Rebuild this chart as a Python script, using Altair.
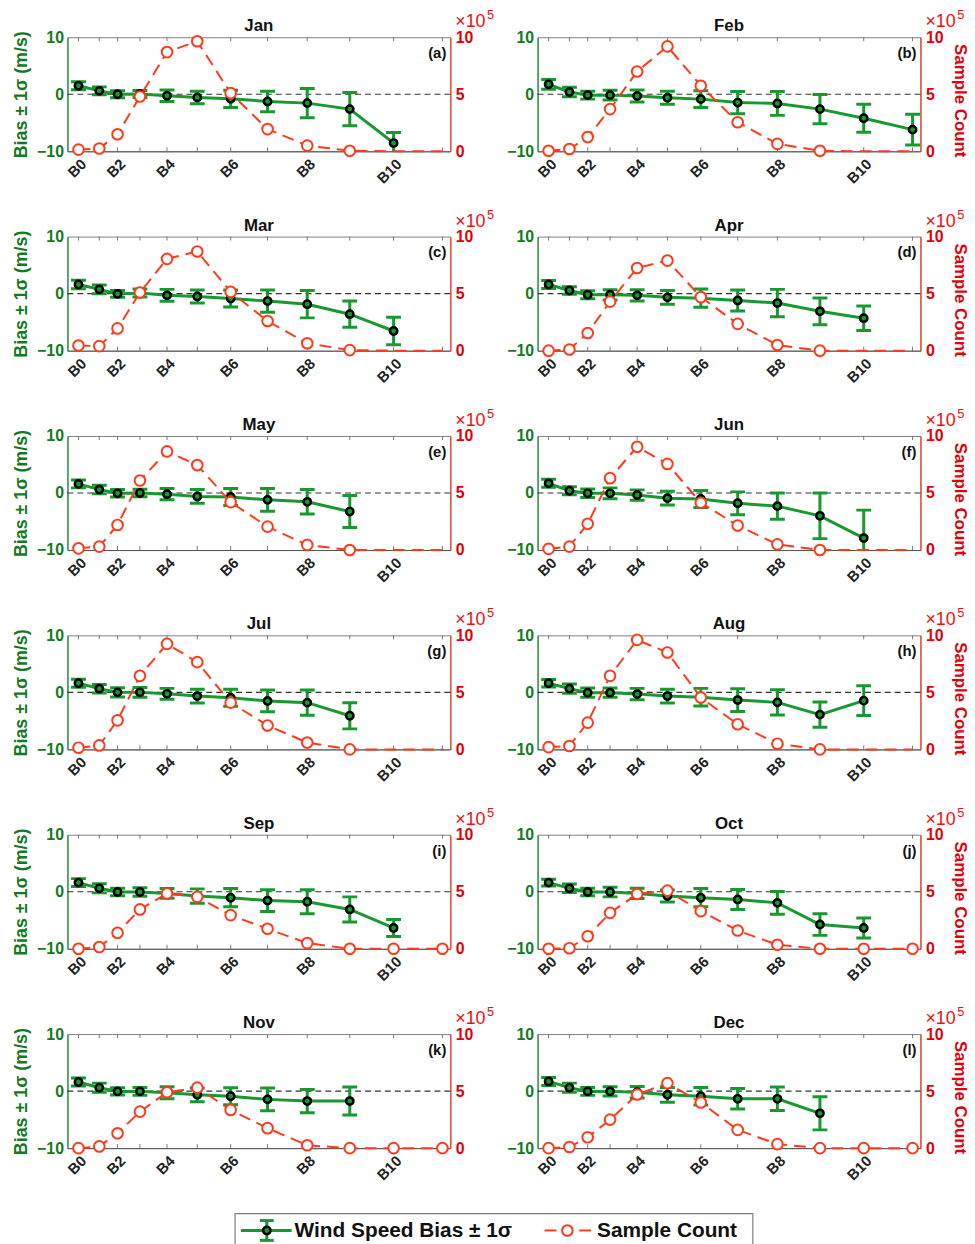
import altair as alt
import pandas as pd

# ---------------- data ----------------
months = ["Jan", "Feb", "Mar", "Apr", "May", "Jun",
          "Jul", "Aug", "Sep", "Oct", "Nov", "Dec"]
panel_tags = ["(a)", "(b)", "(c)", "(d)", "(e)", "(f)",
              "(g)", "(h)", "(i)", "(j)", "(k)", "(l)"]
bin_names = ["B0", "B1", "B2", "B3", "B4", "B5",
             "B6", "B7", "B8", "B9", "B10", "B11"]
# bin centres on the (non-uniform) horizontal axis
bin_center = [0.0, 0.66, 1.24, 1.95, 2.81, 3.77, 4.83, 6.0, 7.26, 8.61, 10.0, 11.55]

# wind speed bias (m/s) per bin
bias_jan = [1.5, 0.6, 0.0, 0.05, -0.25, -0.55, -0.8, -1.25, -1.55, -2.6, -8.55]
bias_feb = [1.75, 0.4, -0.15, -0.15, -0.3, -0.6, -0.85, -1.45, -1.6, -2.6, -4.2, -6.2]
bias_mar = [1.6, 0.75, -0.05, 0.1, -0.3, -0.5, -0.85, -1.3, -1.85, -3.6, -6.55]
bias_apr = [1.6, 0.55, -0.2, -0.2, -0.3, -0.65, -0.8, -1.2, -1.65, -3.1, -4.3]
bias_may = [1.6, 0.6, -0.05, 0.0, -0.2, -0.6, -0.7, -1.2, -1.55, -3.25]
bias_jun = [1.7, 0.4, -0.05, -0.05, -0.35, -0.9, -1.05, -1.8, -2.3, -4.0, -7.9]
bias_jul = [1.6, 0.65, 0.0, 0.0, -0.25, -0.65, -0.95, -1.5, -1.8, -4.1]
bias_aug = [1.6, 0.65, -0.05, -0.05, -0.3, -0.65, -0.85, -1.35, -1.75, -3.9, -1.45]
bias_sep = [1.6, 0.6, -0.05, -0.05, -0.3, -0.75, -1.05, -1.55, -1.75, -3.1, -6.35]
bias_oct = [1.6, 0.6, -0.05, -0.05, -0.3, -0.75, -1.05, -1.35, -1.95, -5.75, -6.35]
bias_nov = [1.6, 0.6, -0.05, -0.05, -0.3, -0.65, -0.9, -1.45, -1.75, -1.75]
bias_dec = [1.7, 0.6, -0.05, -0.05, -0.2, -0.65, -0.9, -1.35, -1.35, -3.9]

# one standard deviation (m/s) per bin
sigma_jan = [0.7, 0.7, 0.6, 0.6, 1.0, 1.1, 1.5, 1.8, 2.55, 2.9, 1.85]
sigma_feb = [0.85, 0.85, 0.7, 0.85, 1.05, 1.15, 1.45, 1.95, 2.1, 2.55, 2.45, 2.7]
sigma_mar = [0.75, 0.75, 0.6, 0.7, 1.05, 1.15, 1.5, 1.95, 2.4, 2.3, 2.4]
sigma_apr = [0.7, 0.65, 0.7, 0.9, 1.0, 1.2, 1.6, 1.85, 2.4, 2.35, 2.15]
sigma_may = [0.7, 0.75, 0.65, 0.65, 1.0, 1.2, 1.5, 2.0, 2.15, 2.8]
sigma_jun = [0.7, 0.7, 0.75, 0.95, 0.9, 1.2, 1.5, 2.0, 2.3, 4.0, 4.9]
sigma_jul = [0.7, 0.75, 0.8, 0.85, 0.95, 1.2, 1.5, 1.9, 2.2, 2.3]
sigma_aug = [0.65, 0.8, 0.8, 0.8, 1.0, 1.2, 1.55, 2.0, 2.2, 2.2, 2.6]
sigma_sep = [0.7, 0.8, 0.65, 0.75, 0.85, 1.25, 1.6, 1.9, 2.1, 2.2, 1.5]
sigma_oct = [0.6, 0.75, 0.65, 0.85, 0.9, 1.05, 1.6, 1.75, 2.0, 1.9, 1.75]
sigma_nov = [0.7, 0.8, 0.65, 0.7, 1.05, 1.2, 1.5, 2.0, 2.05, 2.45]
sigma_dec = [0.7, 0.8, 0.7, 0.8, 1.0, 1.3, 1.55, 1.8, 2.05, 2.9]

# sample count (x 10^5) per bin
count_jan = [0.15, 0.25, 1.5, 4.8, 8.7, 9.65, 5.1, 1.95, 0.5, 0.05, 0.0, 0.0]
count_feb = [0.05, 0.2, 1.25, 3.7, 7.0, 9.2, 5.75, 2.55, 0.65, 0.05, 0.0, 0.0]
count_mar = [0.45, 0.4, 1.95, 5.1, 8.05, 8.7, 5.15, 2.6, 0.65, 0.05, 0.0, 0.0]
count_apr = [0.0, 0.1, 1.55, 4.3, 7.25, 7.9, 4.7, 2.35, 0.5, 0.0, 0.0, 0.0]
count_may = [0.15, 0.3, 2.2, 6.1, 8.65, 7.45, 4.2, 2.05, 0.45, 0.0, 0.0, 0.0]
count_jun = [0.1, 0.3, 2.3, 6.3, 9.05, 7.55, 4.15, 2.15, 0.5, 0.0, 0.0, 0.0]
count_jul = [0.15, 0.35, 2.55, 6.45, 9.25, 7.65, 4.1, 2.1, 0.6, 0.0, 0.0, 0.0]
count_aug = [0.2, 0.3, 2.35, 6.45, 9.6, 8.5, 4.55, 2.2, 0.5, 0.0, 0.0, 0.0]
count_sep = [0.0, 0.15, 1.4, 3.45, 4.85, 4.55, 2.95, 1.75, 0.5, 0.0, 0.0, 0.0]
count_oct = [0.0, 0.05, 1.1, 3.15, 4.8, 5.1, 3.3, 1.6, 0.35, 0.0, 0.0, 0.0]
count_nov = [0.0, 0.15, 1.3, 3.2, 4.9, 5.3, 3.35, 1.75, 0.25, 0.0, 0.0, 0.0]
count_dec = [0.0, 0.1, 0.95, 2.5, 4.7, 5.7, 4.0, 1.6, 0.35, 0.0, 0.0, 0.0]

# number of bins that carry a visible count marker
count_marker_bins = [10, 10, 10, 10, 10, 10, 10, 10, 12, 12, 12, 12]

legend_labels = ["Wind Speed Bias \u00b1 1\u03c3", "Sample Count"]

bias_all = [bias_jan, bias_feb, bias_mar, bias_apr, bias_may, bias_jun,
            bias_jul, bias_aug, bias_sep, bias_oct, bias_nov, bias_dec]
sigma_all = [sigma_jan, sigma_feb, sigma_mar, sigma_apr, sigma_may, sigma_jun,
             sigma_jul, sigma_aug, sigma_sep, sigma_oct, sigma_nov, sigma_dec]
count_all = [count_jan, count_feb, count_mar, count_apr, count_may, count_jun,
             count_jul, count_aug, count_sep, count_oct, count_nov, count_dec]

# ---------------- styling ----------------
FONT = "Liberation Sans"
GREEN = "#17992f"
GREEN_TXT = "#127a22"
RED = "#ff3a1c"
RED_TXT = "#e0000b"
W, H = 386, 115

x_ticks = [bin_center[i] for i in range(0, 12, 2)]
label_expr = "[" + ",".join("'%s'" % n for n in bin_names) + "][indexof([" + \
    ",".join(repr(v) for v in bin_center) + "], datum.value)]"

x_axis = alt.Axis(values=x_ticks, labelExpr=label_expr, labelAngle=-45,
                  title=None, grid=False, ticks=False, domainColor="#555555",
                  labelColor="#222222", labelFontSize=15, labelPadding=5,
                  labelFont=FONT, labelFontWeight="bold")
x_scale = alt.Scale(domain=[-0.35, 11.8], nice=False, zero=False)


def panel(k):
    left_col = (k % 2 == 0)
    b = bias_all[k]
    s = sigma_all[k]
    c = count_all[k]
    bdf = pd.DataFrame({
        "x": bin_center[:len(b)],
        "bias": b,
        "lo": [bi - si for bi, si in zip(b, s)],
        "hi": [bi + si for bi, si in zip(b, s)],
    })
    cdf = pd.DataFrame({"x": bin_center, "count": c})
    cdf_m = cdf.iloc[:count_marker_bins[k]]
    tick_df = pd.DataFrame({"x": bin_center})

    X = alt.X("x:Q", scale=x_scale, axis=x_axis)
    y_left_axis = alt.Axis(values=[-10, 0, 10], grid=False, ticks=False,
                           domainColor=GREEN, domainWidth=1.2,
                           labelColor=GREEN_TXT, labelFontSize=16, labelPadding=4,
                           title="Bias \u00b1 1\u03c3 (m/s)" if left_col else None,
                           titleColor=GREEN_TXT, titleFontSize=18, titlePadding=6,
                           titleFont=FONT, labelFont=FONT)
    y_scale = alt.Scale(domain=[-10, 10], nice=False)
    YB = lambda f: alt.Y(f + ":Q", scale=y_scale, axis=y_left_axis)

    zero = alt.Chart(bdf.iloc[:1]).mark_rule(color="#333333", strokeWidth=1.1,
                                             strokeDash=[6, 4]).encode(
        y=alt.datum(0, scale=y_scale, axis=y_left_axis),
        x=alt.value(0), x2=alt.value(W))
    top_ticks = alt.Chart(tick_df).mark_rule(color="#777777", strokeWidth=1).encode(
        x=X, y=alt.value(0), y2=alt.value(4))
    bot_ticks = alt.Chart(tick_df).mark_rule(color="#777777", strokeWidth=1).encode(
        x=X, y=alt.value(H), y2=alt.value(H - 4))
    err = alt.Chart(bdf).mark_rule(color=GREEN, strokeWidth=3, clip=True).encode(
        x=X, y=YB("lo"), y2="hi:Q")
    cap_lo = alt.Chart(bdf).mark_tick(color=GREEN, orient="horizontal", size=15,
                                      thickness=3, opacity=1, clip=True).encode(
        x=X, y=YB("lo"))
    cap_hi = alt.Chart(bdf).mark_tick(color=GREEN, orient="horizontal", size=15,
                                      thickness=3, opacity=1, clip=True).encode(
        x=X, y=YB("hi"))
    line = alt.Chart(bdf).mark_line(color=GREEN, strokeWidth=3).encode(
        x=X, y=YB("bias"))
    pts = alt.Chart(bdf).mark_point(shape="circle", filled=False, fill=GREEN,
                                    stroke="black", strokeWidth=2.5, size=55,
                                    opacity=1).encode(x=X, y=YB("bias"))
    bias_layer = alt.layer(zero, top_ticks, bot_ticks, err, cap_lo, cap_hi, line, pts)

    y_right_axis = alt.Axis(orient="right", values=[0, 5, 10], grid=False, ticks=False,
                            domainColor=RED, domainWidth=1.2, labelColor=RED_TXT,
                            labelFontSize=16, labelPadding=5,
                            title="Sample Count" if not left_col else None,
                            titleColor=RED_TXT, titleFontSize=17, titlePadding=8,
                            titleY=H / 2 + 6, titleFont=FONT, labelFont=FONT)
    yc_scale = alt.Scale(domain=[0, 10], nice=False)
    YC = alt.Y("count:Q", scale=yc_scale, axis=y_right_axis)
    cline = alt.Chart(cdf).mark_line(color=RED, strokeWidth=2,
                                     strokeDash=[12, 7]).encode(x=X, y=YC)
    cpts = alt.Chart(cdf_m).mark_point(shape="circle", filled=False, fill="white",
                                       stroke=RED, strokeWidth=2, size=115,
                                       opacity=1).encode(x=X, y=YC)
    count_layer = alt.layer(cline, cpts)

    one = pd.DataFrame({"k": [0]})
    title = alt.Chart(one).mark_text(text=months[k], align="center", baseline="middle",
                                     fontSize=17, fontWeight="bold", font=FONT,
                                     color="#111111").encode(
        x=alt.value(W / 2), y=alt.value(-11))
    tag = alt.Chart(one).mark_text(text=panel_tags[k], align="right", baseline="middle",
                                   fontSize=15, fontWeight="bold", font=FONT,
                                   color="#111111").encode(
        x=alt.value(W - 4), y=alt.value(16))
    mult = alt.Chart(one).mark_text(text="\u00d710", align="left", baseline="middle",
                                    fontSize=18, font=FONT, color="#f01010").encode(
        x=alt.value(W + 5), y=alt.value(-15))
    expo = alt.Chart(one).mark_text(text="5", align="left", baseline="middle",
                                    fontSize=13, font=FONT, color="#f01010").encode(
        x=alt.value(W + 37), y=alt.value(-22))

    return alt.layer(bias_layer, count_layer, title, tag, mult, expo).resolve_scale(
        y="independent").properties(width=W, height=H)


panels = [panel(k) for k in range(12)]

# legend box (13th cell, drawn across the two columns; lifted to sit closer)
one = pd.DataFrame({"k": [0]})
LX, LY, LW, LH = 169, -20, 522, 34
MID = LY + LH / 2
lg_box = alt.Chart(one).mark_rect(fill="white", stroke="#7f7f7f", strokeWidth=1.2).encode(
    x=alt.value(LX), x2=alt.value(LX + LW), y=alt.value(LY), y2=alt.value(LY + LH))
lg_line = alt.Chart(one).mark_rule(color=GREEN, strokeWidth=3).encode(
    x=alt.value(LX + 6), x2=alt.value(LX + 57), y=alt.value(MID))
lg_err = alt.Chart(one).mark_rule(color=GREEN, strokeWidth=3).encode(
    x=alt.value(LX + 32), y=alt.value(LY + 7), y2=alt.value(LY + LH - 7))
lg_cap1 = alt.Chart(one).mark_rule(color=GREEN, strokeWidth=3).encode(
    x=alt.value(LX + 25), x2=alt.value(LX + 39), y=alt.value(LY + 7))
lg_cap2 = alt.Chart(one).mark_rule(color=GREEN, strokeWidth=3).encode(
    x=alt.value(LX + 25), x2=alt.value(LX + 39), y=alt.value(LY + LH - 7))
lg_pt = alt.Chart(one).mark_point(shape="circle", filled=False, fill=GREEN, stroke="black",
                                  strokeWidth=2.5, size=55, opacity=1).encode(
    x=alt.value(LX + 32), y=alt.value(MID))
lg_t1 = alt.Chart(one).mark_text(text=legend_labels[0], align="left", baseline="middle",
                                 fontSize=21, fontWeight="bold", font=FONT,
                                 color="#111111").encode(x=alt.value(LX + 60), y=alt.value(MID + 1))
lg_d1 = alt.Chart(one).mark_rule(color=RED, strokeWidth=2).encode(
    x=alt.value(LX + 312), x2=alt.value(LX + 324), y=alt.value(MID))
lg_d2 = alt.Chart(one).mark_rule(color=RED, strokeWidth=2).encode(
    x=alt.value(LX + 347), x2=alt.value(LX + 359), y=alt.value(MID))
lg_c = alt.Chart(one).mark_point(shape="circle", filled=False, fill="white", stroke=RED,
                                 strokeWidth=2, size=115, opacity=1).encode(
    x=alt.value(LX + 335), y=alt.value(MID))
lg_t2 = alt.Chart(one).mark_text(text=legend_labels[1], align="left", baseline="middle",
                                 fontSize=21, fontWeight="bold", font=FONT,
                                 color="#111111").encode(x=alt.value(LX + 365), y=alt.value(MID + 1))
legend = alt.layer(lg_box, lg_line, lg_err, lg_cap1, lg_cap2, lg_pt, lg_t1,
                   lg_d1, lg_d2, lg_c, lg_t2).properties(
    width=W, height=H, view=alt.ViewBackground(stroke="transparent"))

chart = alt.concat(*panels, legend, columns=2,
                   spacing={"row": 86, "column": 88}, bounds="flush").properties(
    padding={"left": 12, "top": 3, "right": 5, "bottom": 0}
).configure(font=FONT).configure_view(stroke="#808080", strokeWidth=1).configure_axis(
    labelFontWeight="bold", titleFontWeight="bold")

chart.save("out.html", embed_options={"renderer": "svg", "actions": False})
